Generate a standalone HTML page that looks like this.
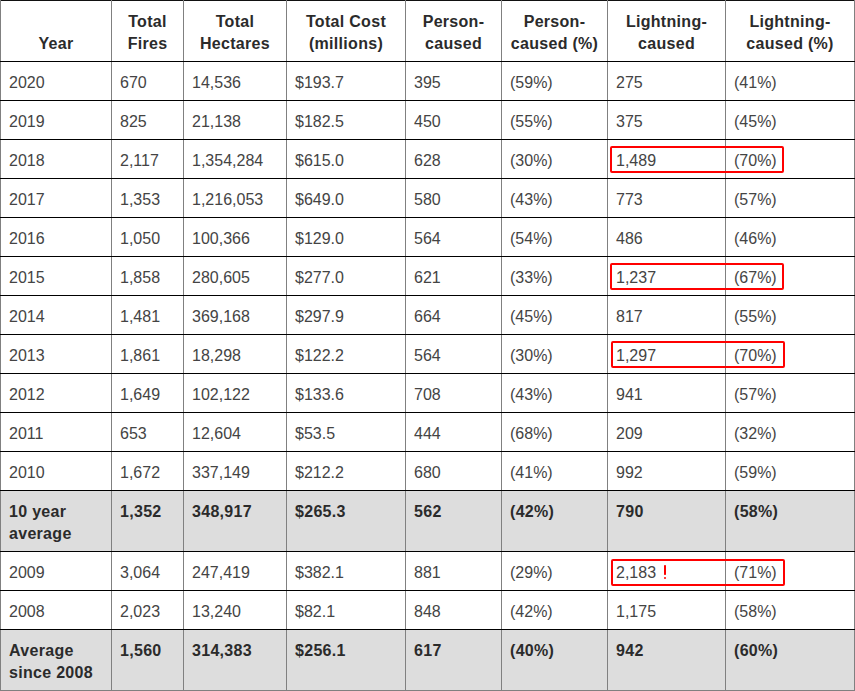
<!DOCTYPE html>
<html><head><meta charset="utf-8"><style>
html,body{margin:0;padding:0;background:#fff;}
body{width:855px;height:691px;position:relative;overflow:hidden;font-family:"Liberation Sans",sans-serif;font-size:16px;line-height:22px;color:#444;}
.v{position:absolute;top:0;width:1px;height:691px;background:#808080;}
.h{position:absolute;left:0;width:855px;height:1px;background:#000;}
.g{position:absolute;left:0;width:855px;background:#ddd;}
.t{position:absolute;white-space:nowrap;}
.c{position:absolute;white-space:nowrap;text-align:center;font-weight:bold;letter-spacing:0.3px;color:#2b2b2b;}
.b{letter-spacing:0.3px;color:#2b2b2b;}
.b{font-weight:bold;}
.box{position:absolute;border:2px solid #f00;border-radius:2px;box-sizing:border-box;}
.ex{position:absolute;color:#f00;font-weight:bold;}
</style></head><body>

<div class="g" style="top:491px;height:60px"></div>
<div class="g" style="top:630px;height:60px"></div>
<div class="h" style="top:0px;background:#111"></div>
<div class="v" style="left:0px"></div>
<div class="v" style="left:111px"></div>
<div class="v" style="left:183px"></div>
<div class="v" style="left:286px"></div>
<div class="v" style="left:405px"></div>
<div class="v" style="left:501px"></div>
<div class="v" style="left:607px"></div>
<div class="v" style="left:725px"></div>
<div class="v" style="left:854px"></div>
<div class="h" style="top:61px"></div>
<div class="h" style="top:100px"></div>
<div class="h" style="top:139px"></div>
<div class="h" style="top:178px"></div>
<div class="h" style="top:217px"></div>
<div class="h" style="top:256px"></div>
<div class="h" style="top:295px"></div>
<div class="h" style="top:334px"></div>
<div class="h" style="top:373px"></div>
<div class="h" style="top:412px"></div>
<div class="h" style="top:451px"></div>
<div class="h" style="top:490px"></div>
<div class="h" style="top:551px"></div>
<div class="h" style="top:590px"></div>
<div class="h" style="top:629px"></div>
<div class="h" style="top:690px;background:#808080"></div>
<div class="c" style="left:1px;width:110px;top:33px">Year</div>
<div class="c" style="left:112px;width:71px;top:11px">Total</div>
<div class="c" style="left:112px;width:71px;top:33px">Fires</div>
<div class="c" style="left:184px;width:102px;top:11px">Total</div>
<div class="c" style="left:184px;width:102px;top:33px">Hectares</div>
<div class="c" style="left:287px;width:118px;top:11px">Total Cost</div>
<div class="c" style="left:287px;width:118px;top:33px">(millions)</div>
<div class="c" style="left:406px;width:95px;top:11px">Person-</div>
<div class="c" style="left:406px;width:95px;top:33px">caused</div>
<div class="c" style="left:502px;width:105px;top:11px">Person-</div>
<div class="c" style="left:502px;width:105px;top:33px">caused (%)</div>
<div class="c" style="left:608px;width:117px;top:11px">Lightning-</div>
<div class="c" style="left:608px;width:117px;top:33px">caused</div>
<div class="c" style="left:726px;width:128px;top:11px">Lightning-</div>
<div class="c" style="left:726px;width:128px;top:33px">caused (%)</div>
<div class="t" style="left:9px;top:72px">2020</div>
<div class="t" style="left:120px;top:72px">670</div>
<div class="t" style="left:192px;top:72px">14,536</div>
<div class="t" style="left:295px;top:72px">$193.7</div>
<div class="t" style="left:414px;top:72px">395</div>
<div class="t" style="left:510px;top:72px">(59%)</div>
<div class="t" style="left:616px;top:72px">275</div>
<div class="t" style="left:734px;top:72px">(41%)</div>
<div class="t" style="left:9px;top:111px">2019</div>
<div class="t" style="left:120px;top:111px">825</div>
<div class="t" style="left:192px;top:111px">21,138</div>
<div class="t" style="left:295px;top:111px">$182.5</div>
<div class="t" style="left:414px;top:111px">450</div>
<div class="t" style="left:510px;top:111px">(55%)</div>
<div class="t" style="left:616px;top:111px">375</div>
<div class="t" style="left:734px;top:111px">(45%)</div>
<div class="t" style="left:9px;top:150px">2018</div>
<div class="t" style="left:120px;top:150px">2,117</div>
<div class="t" style="left:192px;top:150px">1,354,284</div>
<div class="t" style="left:295px;top:150px">$615.0</div>
<div class="t" style="left:414px;top:150px">628</div>
<div class="t" style="left:510px;top:150px">(30%)</div>
<div class="t" style="left:616px;top:150px">1,489</div>
<div class="t" style="left:734px;top:150px">(70%)</div>
<div class="t" style="left:9px;top:189px">2017</div>
<div class="t" style="left:120px;top:189px">1,353</div>
<div class="t" style="left:192px;top:189px">1,216,053</div>
<div class="t" style="left:295px;top:189px">$649.0</div>
<div class="t" style="left:414px;top:189px">580</div>
<div class="t" style="left:510px;top:189px">(43%)</div>
<div class="t" style="left:616px;top:189px">773</div>
<div class="t" style="left:734px;top:189px">(57%)</div>
<div class="t" style="left:9px;top:228px">2016</div>
<div class="t" style="left:120px;top:228px">1,050</div>
<div class="t" style="left:192px;top:228px">100,366</div>
<div class="t" style="left:295px;top:228px">$129.0</div>
<div class="t" style="left:414px;top:228px">564</div>
<div class="t" style="left:510px;top:228px">(54%)</div>
<div class="t" style="left:616px;top:228px">486</div>
<div class="t" style="left:734px;top:228px">(46%)</div>
<div class="t" style="left:9px;top:267px">2015</div>
<div class="t" style="left:120px;top:267px">1,858</div>
<div class="t" style="left:192px;top:267px">280,605</div>
<div class="t" style="left:295px;top:267px">$277.0</div>
<div class="t" style="left:414px;top:267px">621</div>
<div class="t" style="left:510px;top:267px">(33%)</div>
<div class="t" style="left:616px;top:267px">1,237</div>
<div class="t" style="left:734px;top:267px">(67%)</div>
<div class="t" style="left:9px;top:306px">2014</div>
<div class="t" style="left:120px;top:306px">1,481</div>
<div class="t" style="left:192px;top:306px">369,168</div>
<div class="t" style="left:295px;top:306px">$297.9</div>
<div class="t" style="left:414px;top:306px">664</div>
<div class="t" style="left:510px;top:306px">(45%)</div>
<div class="t" style="left:616px;top:306px">817</div>
<div class="t" style="left:734px;top:306px">(55%)</div>
<div class="t" style="left:9px;top:345px">2013</div>
<div class="t" style="left:120px;top:345px">1,861</div>
<div class="t" style="left:192px;top:345px">18,298</div>
<div class="t" style="left:295px;top:345px">$122.2</div>
<div class="t" style="left:414px;top:345px">564</div>
<div class="t" style="left:510px;top:345px">(30%)</div>
<div class="t" style="left:616px;top:345px">1,297</div>
<div class="t" style="left:734px;top:345px">(70%)</div>
<div class="t" style="left:9px;top:384px">2012</div>
<div class="t" style="left:120px;top:384px">1,649</div>
<div class="t" style="left:192px;top:384px">102,122</div>
<div class="t" style="left:295px;top:384px">$133.6</div>
<div class="t" style="left:414px;top:384px">708</div>
<div class="t" style="left:510px;top:384px">(43%)</div>
<div class="t" style="left:616px;top:384px">941</div>
<div class="t" style="left:734px;top:384px">(57%)</div>
<div class="t" style="left:9px;top:423px">2011</div>
<div class="t" style="left:120px;top:423px">653</div>
<div class="t" style="left:192px;top:423px">12,604</div>
<div class="t" style="left:295px;top:423px">$53.5</div>
<div class="t" style="left:414px;top:423px">444</div>
<div class="t" style="left:510px;top:423px">(68%)</div>
<div class="t" style="left:616px;top:423px">209</div>
<div class="t" style="left:734px;top:423px">(32%)</div>
<div class="t" style="left:9px;top:462px">2010</div>
<div class="t" style="left:120px;top:462px">1,672</div>
<div class="t" style="left:192px;top:462px">337,149</div>
<div class="t" style="left:295px;top:462px">$212.2</div>
<div class="t" style="left:414px;top:462px">680</div>
<div class="t" style="left:510px;top:462px">(41%)</div>
<div class="t" style="left:616px;top:462px">992</div>
<div class="t" style="left:734px;top:462px">(59%)</div>
<div class="t b" style="left:9px;top:501px">10 year</div>
<div class="t b" style="left:9px;top:523px">average</div>
<div class="t b" style="left:120px;top:501px">1,352</div>
<div class="t b" style="left:192px;top:501px">348,917</div>
<div class="t b" style="left:295px;top:501px">$265.3</div>
<div class="t b" style="left:414px;top:501px">562</div>
<div class="t b" style="left:510px;top:501px">(42%)</div>
<div class="t b" style="left:616px;top:501px">790</div>
<div class="t b" style="left:734px;top:501px">(58%)</div>
<div class="t" style="left:9px;top:562px">2009</div>
<div class="t" style="left:120px;top:562px">3,064</div>
<div class="t" style="left:192px;top:562px">247,419</div>
<div class="t" style="left:295px;top:562px">$382.1</div>
<div class="t" style="left:414px;top:562px">881</div>
<div class="t" style="left:510px;top:562px">(29%)</div>
<div class="t" style="left:616px;top:562px">2,183</div>
<div class="t" style="left:734px;top:562px">(71%)</div>
<div class="t" style="left:9px;top:601px">2008</div>
<div class="t" style="left:120px;top:601px">2,023</div>
<div class="t" style="left:192px;top:601px">13,240</div>
<div class="t" style="left:295px;top:601px">$82.1</div>
<div class="t" style="left:414px;top:601px">848</div>
<div class="t" style="left:510px;top:601px">(42%)</div>
<div class="t" style="left:616px;top:601px">1,175</div>
<div class="t" style="left:734px;top:601px">(58%)</div>
<div class="t b" style="left:9px;top:640px">Average</div>
<div class="t b" style="left:9px;top:662px">since 2008</div>
<div class="t b" style="left:120px;top:640px">1,560</div>
<div class="t b" style="left:192px;top:640px">314,383</div>
<div class="t b" style="left:295px;top:640px">$256.1</div>
<div class="t b" style="left:414px;top:640px">617</div>
<div class="t b" style="left:510px;top:640px">(40%)</div>
<div class="t b" style="left:616px;top:640px">942</div>
<div class="t b" style="left:734px;top:640px">(60%)</div>
<div class="box" style="left:610px;top:146px;width:174px;height:27px"></div>
<div class="box" style="left:610px;top:263px;width:174px;height:27px"></div>
<div class="box" style="left:611px;top:341px;width:174px;height:27px"></div>
<div class="box" style="left:611px;top:559px;width:174px;height:27px"></div>
<div style="position:absolute;left:663.8px;top:564.8px;width:2.6px;height:10.6px;background:#f00;border-radius:0.8px"></div>
<div style="position:absolute;left:663.8px;top:576.6px;width:2.6px;height:2.5px;background:#f00;border-radius:1px"></div>
</body></html>
